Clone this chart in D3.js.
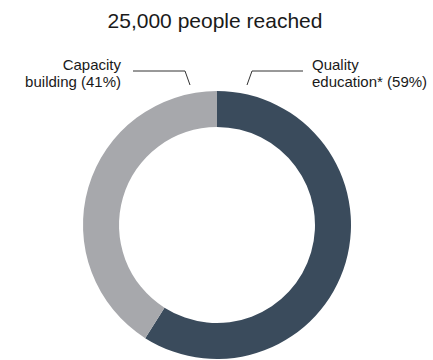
<!DOCTYPE html>
<html>
<head>
<meta charset="utf-8">
<script src="https://cdn.jsdelivr.net/npm/d3@7"></script>
<style>
  body { margin: 0; background: #fff; }
  svg text { font-family: "Liberation Sans", Arial, sans-serif; fill: #1a1a1a; }
</style>
</head>
<body>
<svg id="chart" width="433" height="360"></svg>
<script>
// chart data
var title = '25,000 people reached';
var categories = ['Quality education*', 'Capacity building'];
var labelLines = [['Quality', 'education* (59%)'], ['Capacity', 'building (41%)']];
var shares = [59, 41];
var sliceColors = ['#3a4b5c', '#a7a8ac'];

var svg = d3.select('#chart');
var cx = 217, cy = 225;
var outerR = 134, innerR = 98;

svg.append('text')
   .attr('x', 215)
   .attr('y', 28)
   .attr('text-anchor', 'middle')
   .style('font-size', '21px')
   .text(title);

var pie = d3.pie().sort(null).value(function(d) { return d; });
var arc = d3.arc().innerRadius(innerR).outerRadius(outerR);
var arcs = pie(shares);

var g = svg.append('g').attr('transform', 'translate(' + cx + ',' + cy + ')');
g.selectAll('path')
 .data(arcs)
 .enter()
 .append('path')
   .attr('d', arc)
   .attr('fill', function(d, i) { return sliceColors[i]; });

// leader lines and labels
var labels = [
  { lines: labelLines[0], anchor: 'start', tx: 312, pts: [[247, 85], [252, 71], [303, 71]] },
  { lines: labelLines[1], anchor: 'end', tx: 121, pts: [[190, 85], [185, 71], [133, 71]] }
];

labels.forEach(function(l) {
  svg.append('path')
     .attr('d', d3.line()(l.pts))
     .attr('fill', 'none')
     .attr('stroke', '#333')
     .attr('stroke-width', 1);
  var t = svg.append('text')
     .attr('text-anchor', l.anchor)
     .style('font-size', '15px');
  l.lines.forEach(function(s, i) {
    t.append('tspan').attr('x', l.tx).attr('y', 70 + i * 17).text(s);
  });
});
</script>
</body>
</html>
